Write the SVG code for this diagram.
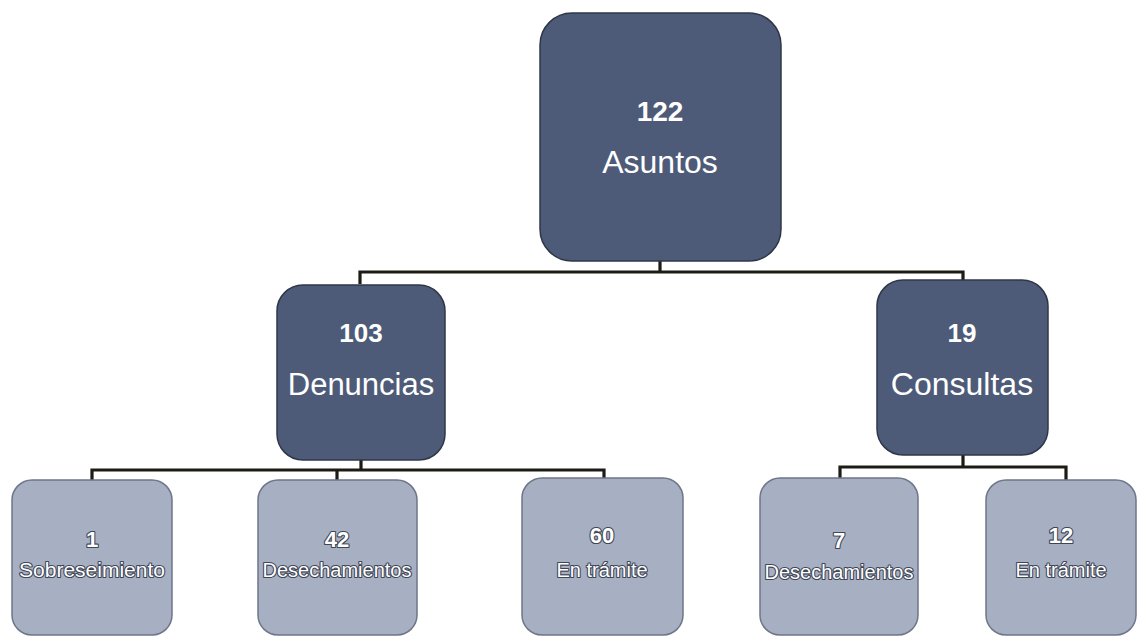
<svg xmlns="http://www.w3.org/2000/svg" width="1138" height="637" viewBox="0 0 1138 637">
  <style>
    .dark { fill: #4d5b78; stroke: #2f3747; stroke-width: 1.5; }
    .light { fill: #a7afc3; stroke: #6e7688; stroke-width: 1.5; }
    .t { font-family: "Liberation Sans", Arial, sans-serif; fill: #ffffff; text-anchor: middle; }
    .num { font-weight: bold; }
    .lbl { paint-order: stroke; stroke: #3e4555; stroke-width: 2.2; stroke-linejoin: round; }
    .conn { fill: none; stroke: #1c1c14; stroke-width: 3.2; }
  </style>
  <rect width="1138" height="637" fill="#ffffff"/>

  <g id="connectors">
    <path class="conn" d="M660,261 V272 M360,284 V272 H963 V280"/>
    <path class="conn" d="M361,460 V470 M92,480 V470 H604 V478 M337,470 V480"/>
    <path class="conn" d="M963,455 V467 M840,478 V467 H1066 V480"/>
  </g>

  <g id="root">
    <rect class="dark" x="540" y="13" width="241" height="248" rx="32"/>
    <text class="t num" x="660" y="121" font-size="28">122</text>
    <text class="t" x="660" y="173" font-size="32">Asuntos</text>
  </g>

  <g id="denuncias">
    <rect class="dark" x="277" y="285" width="168" height="175" rx="26"/>
    <text class="t num" x="361" y="342" font-size="26">103</text>
    <text class="t" x="361" y="395" font-size="31">Denuncias</text>
  </g>

  <g id="consultas">
    <rect class="dark" x="877" y="280" width="171" height="175" rx="26"/>
    <text class="t num" x="962" y="342" font-size="26">19</text>
    <text class="t" x="962" y="395" font-size="32">Consultas</text>
  </g>

  <g id="sobreseimiento">
    <rect class="light" x="12" y="480" width="160" height="155" rx="20"/>
    <text class="t num lbl" x="92" y="547" font-size="22">1</text>
    <text class="t lbl" x="92" y="577" font-size="21">Sobreseimiento</text>
  </g>

  <g id="desechamientos-d">
    <rect class="light" x="258" y="480" width="159" height="155" rx="20"/>
    <text class="t num lbl" x="337" y="547" font-size="22">42</text>
    <text class="t lbl" x="337" y="577" font-size="20">Desechamientos</text>
  </g>

  <g id="tramite-d">
    <rect class="light" x="522" y="478" width="161" height="157" rx="20"/>
    <text class="t num lbl" x="602" y="543" font-size="22">60</text>
    <text class="t lbl" x="602" y="577" font-size="20">En trámite</text>
  </g>

  <g id="desechamientos-c">
    <rect class="light" x="760" y="478" width="158" height="157" rx="20"/>
    <text class="t num lbl" x="839" y="548" font-size="22">7</text>
    <text class="t lbl" x="839" y="579" font-size="20">Desechamientos</text>
  </g>

  <g id="tramite-c">
    <rect class="light" x="986" y="480" width="150" height="155" rx="20"/>
    <text class="t num lbl" x="1061" y="543" font-size="22">12</text>
    <text class="t lbl" x="1061" y="577" font-size="20">En trámite</text>
  </g>
</svg>
